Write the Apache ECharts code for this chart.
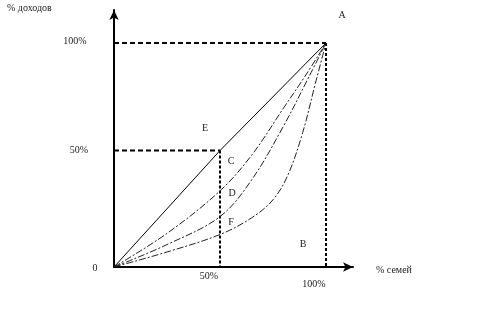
<!DOCTYPE html>
<html>
<head>
<meta charset="utf-8">
<script src="https://cdn.jsdelivr.net/npm/echarts@6/dist/echarts.min.js"></script>
<style>html,body{margin:0;padding:0;background:#fff;}#c{width:480px;height:312px;}</style>
</head>
<body>
<div id="c"></div>
<script>
// Equality line and Lorenz curves (% families -> % income)
const equality = [[0, 0], [50, 52], [100, 100]];
const curveD = [[0, 0], [25, 15], [50, 34], [65, 50], [80, 71], [90, 85], [100, 100]];
const curveF = [[0, 0], [25, 10], [50, 22.5], [65, 39], [80, 63], [92, 85], [100, 100]];
const curveB = [[0, 0], [25, 6.7], [50, 14.5], [65, 22], [75, 30], [82, 41], [89, 60], [95, 82], [100, 100]];
// Guide lines
const guideTopH = [[0, 100], [100, 100]];
const guideTopV = [[100, 100], [100, 0]];
const guideMidH = [[0, 52], [50, 52]];
const guideMidV = [[50, 52], [50, 0]];
// Text
const yTitle = '% доходов';
const xTitle = '% семей';
const yTicks = ['100%', '50%', '0'];
const xTicks = ['50%', '100%'];
const letters = ['A', 'B', 'C', 'D', 'E', 'F'];

const chart = echarts.init(document.getElementById('c'));
const font = '"Liberation Serif", "DejaVu Serif", serif';
const txt = (t, x, y, align) => ({
  type: 'text', x: x, y: y,
  style: { text: t, font: '10px ' + font, fill: '#222', textAlign: align || 'center', textVerticalAlign: 'middle' }
});
const ln = (data, type, width, z) => ({
  type: 'line', data: data, symbol: 'none', smooth: false, silent: true, z: z || 2,
  lineStyle: { color: '#000', width: width, type: type }
});
const curve = (data) => ({
  type: 'line', data: data, symbol: 'none', smooth: 0.35, silent: true, z: 3,
  lineStyle: { color: '#222', width: 1, type: [7, 2, 2, 2] }
});

chart.setOption({
  animation: false,
  backgroundColor: '#fff',
  grid: { left: 114, right: 127, top: 10, bottom: 45 },
  xAxis: {
    type: 'value', min: 0, max: 112.736,
    axisLine: { lineStyle: { color: '#000', width: 2 }, symbol: ['none', 'arrow'], symbolSize: [7, 10] },
    axisTick: { show: false }, axisLabel: { show: false }, splitLine: { show: false }
  },
  yAxis: {
    type: 'value', min: 0, max: 114.73,
    axisLine: { lineStyle: { color: '#000', width: 2 }, symbol: ['none', 'arrow'], symbolSize: [7, 10] },
    axisTick: { show: false }, axisLabel: { show: false }, splitLine: { show: false }
  },
  series: [
    ln(guideTopH, [5, 3], 2),
    ln(guideTopV, [3, 2], 2),
    ln(guideMidH, [5, 3], 2),
    ln(guideMidV, [3, 2], 2),
    ln(equality, 'solid', 1, 3),
    curve(curveD),
    curve(curveF),
    curve(curveB)
  ],
  graphic: [
    txt(yTitle, 7, 8, 'left'),
    txt(yTicks[0], 75, 41),
    txt(yTicks[1], 79, 150),
    txt(yTicks[2], 95, 268),
    txt(xTicks[0], 209, 276),
    txt(xTicks[1], 314, 284),
    txt(xTitle, 376, 270, 'left'),
    txt(letters[0], 342, 15),
    txt(letters[1], 303, 244),
    txt(letters[2], 231, 161),
    txt(letters[3], 232, 193),
    txt(letters[4], 205, 128),
    txt(letters[5], 231, 222)
  ]
});
</script>
</body>
</html>
